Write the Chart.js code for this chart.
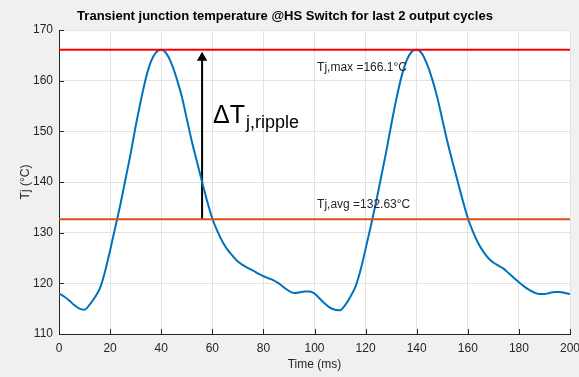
<!DOCTYPE html>
<html>
<head>
<meta charset="utf-8">
<script src="https://cdn.jsdelivr.net/npm/chart.js@4.4.0/dist/chart.umd.min.js"></script>
<style>
html,body{margin:0;padding:0;background:#F0F0F0;}
#wrap{width:579px;height:377px;position:relative;}
</style>
</head>
<body>
<div id="wrap"><canvas id="c" width="579" height="377"></canvas></div>
<script>
// ---- data ----
const timeMs = [0,2,4,6,8,10,12,14,16,18,20,22,24,26,28,30,32,34,36,38,40,42,44,46,48,50,52,54,56,58,60,62,64,66,68,70,72,74,76,78,80,82,84,86,88,90,92,94,96,98,
  100,102,104,106,108,110,112,114,116,118,120,122,124,126,128,130,132,134,136,138,140,142,144,146,148,150,152,154,156,158,160,162,164,166,168,170,172,174,176,178,180,182,184,186,188,190,192,194,196,198,200];
const tjValues = [118.0,117.4,116.6,115.7,115.0,114.8,115.8,117.2,119.0,122.3,126.5,131.0,135.5,140.5,145.5,151.0,156.0,160.5,163.8,165.6,166.1,165.4,163.4,160.5,157.0,152.5,148.0,144.0,140.0,136.2,132.8,130.3,128.2,126.6,125.4,124.3,123.6,123.0,122.5,121.9,121.4,121.0,120.6,120.0,119.2,118.5,118.1,118.2,118.4,118.4,
  118.0,117.0,116.0,115.2,114.8,114.7,115.7,117.3,119.3,122.6,126.8,131.2,135.8,140.8,145.8,151.2,156.3,160.7,163.9,165.7,166.1,165.4,163.3,160.4,156.8,152.4,148.0,144.0,140.2,136.4,132.9,130.2,128.0,126.3,125.0,124.1,123.5,122.9,122.0,121.1,120.2,119.4,118.7,118.2,117.9,117.9,118.1,118.3,118.3,118.1,117.9];
const tjMax = 166.1;
const tjAvg = 132.63;
const arrowTime = 56;
const arrowTop = 164.5;
const xTicks = {min:0, max:200, step:20};
const yTicks = {min:110, max:170, step:10};
const titleText = 'Transient junction temperature @HS Switch for last 2 output cycles';
const xLabel = 'Time (ms)';
const yLabel = 'Tj (°C)';
const maxLabel = 'Tj,max =166.1°C';
const avgLabel = 'Tj,avg =132.63°C';
const maxLabelPos = {x:101, y:161.9};
const avgLabelPos = {x:101, y:134.9};
const rippleLabelPos = {x:60.3, y:151.7};

const curve = timeMs.map((t,i)=>({x:t, y:tjValues[i]}));
const FONT = '"Liberation Sans", Arial, sans-serif';
const TXT = '#262626';

const bgPlugin = {
  id:'bg',
  beforeDraw(chart){
    const {ctx, chartArea:a} = chart;
    ctx.save();
    ctx.fillStyle = '#F0F0F0';
    ctx.fillRect(0,0,chart.width,chart.height);
    ctx.fillStyle = '#FFFFFF';
    ctx.fillRect(a.left,a.top,a.right-a.left,a.bottom-a.top);
    ctx.restore();
  }
};

const annoPlugin = {
  id:'anno',
  afterDatasetsDraw(chart){
    const {ctx, scales:{x,y}, chartArea:a} = chart;
    ctx.save();
    // inward ticks
    ctx.strokeStyle = TXT; ctx.lineWidth = 1;
    ctx.beginPath();
    for(let v=xTicks.min; v<=xTicks.max; v+=xTicks.step){
      const px = Math.round(x.getPixelForValue(v))+0.5;
      ctx.moveTo(px, a.bottom); ctx.lineTo(px, a.bottom-5);
    }
    for(let v=yTicks.min; v<=yTicks.max; v+=yTicks.step){
      const py = Math.round(y.getPixelForValue(v))+0.5;
      ctx.moveTo(a.left, py); ctx.lineTo(a.left+5, py);
    }
    ctx.stroke();
    // labels
    ctx.fillStyle = TXT;
    ctx.textBaseline = 'alphabetic';
    ctx.textAlign = 'left';
    ctx.font = '12px ' + FONT;
    ctx.fillText(maxLabel, x.getPixelForValue(maxLabelPos.x), y.getPixelForValue(maxLabelPos.y));
    ctx.fillText(avgLabel, x.getPixelForValue(avgLabelPos.x), y.getPixelForValue(avgLabelPos.y));
    // delta T ripple
    ctx.fillStyle = '#000';
    const rx = x.getPixelForValue(rippleLabelPos.x), ry = y.getPixelForValue(rippleLabelPos.y);
    ctx.font = '25px ' + FONT;
    const main = '\u0394T';
    ctx.fillText(main, rx, ry);
    const w = ctx.measureText(main).width;
    ctx.font = '18px ' + FONT;
    ctx.fillText('j,ripple', rx + w + 1, ry + 5);
    ctx.restore();
  }
};

new Chart(document.getElementById('c'), {
  type:'line',
  data:{
    datasets:[
      {data:[{x:0,y:tjMax},{x:200,y:tjMax}], borderColor:'#FF0000', borderWidth:2, pointRadius:0},
      {data:[{x:0,y:tjAvg},{x:200,y:tjAvg}], borderColor:'#D95319', borderWidth:2, pointRadius:0},
      {data:curve, borderColor:'#0072BD', borderWidth:2, pointRadius:0, cubicInterpolationMode:'monotone'},
      {data:[{x:arrowTime,y:tjAvg},{x:arrowTime,y:arrowTop}], borderColor:'#000', borderWidth:2,
       pointRadius:[0,6], pointStyle:'triangle', pointBackgroundColor:'#000', pointBorderColor:'#000', pointBorderWidth:0}
    ]
  },
  options:{
    responsive:false,
    animation:false,
    events:[],
    layout:{padding:{left:0,right:9,top:0,bottom:0}},
    plugins:{
      legend:{display:false},
      tooltip:{enabled:false},
      title:{display:true, text:titleText, color:'#000',
        font:{family:FONT, size:13, weight:'bold'},
        padding:{top:9,bottom:5.4}}
    },
    scales:{
      x:{type:'linear', min:xTicks.min, max:xTicks.max,
        ticks:{stepSize:xTicks.step, color:TXT, font:{family:FONT,size:12}, padding:7, maxRotation:0},
        grid:{color:'#E3E3E3', drawTicks:false},
        border:{color:TXT, width:1},
        title:{display:true, text:xLabel, color:TXT, font:{family:FONT,size:12}, padding:{top:2,bottom:5}},
        afterFit(s){ s.height = 43; s.paddingRight = 0; s.paddingLeft = 0; }
      },
      y:{type:'linear', min:yTicks.min, max:yTicks.max,
        ticks:{stepSize:yTicks.step, color:TXT, font:{family:FONT,size:12}, padding:6},
        grid:{color:'#E3E3E3', drawTicks:false},
        border:{color:TXT, width:1},
        title:{display:true, text:yLabel, color:TXT, font:{family:FONT,size:12}, padding:{top:18,bottom:0}},
        afterFit(s){ s.width = 59; s.paddingTop = 0; s.paddingBottom = 0; }
      }
    }
  },
  plugins:[bgPlugin, annoPlugin]
});
</script>
</body>
</html>
